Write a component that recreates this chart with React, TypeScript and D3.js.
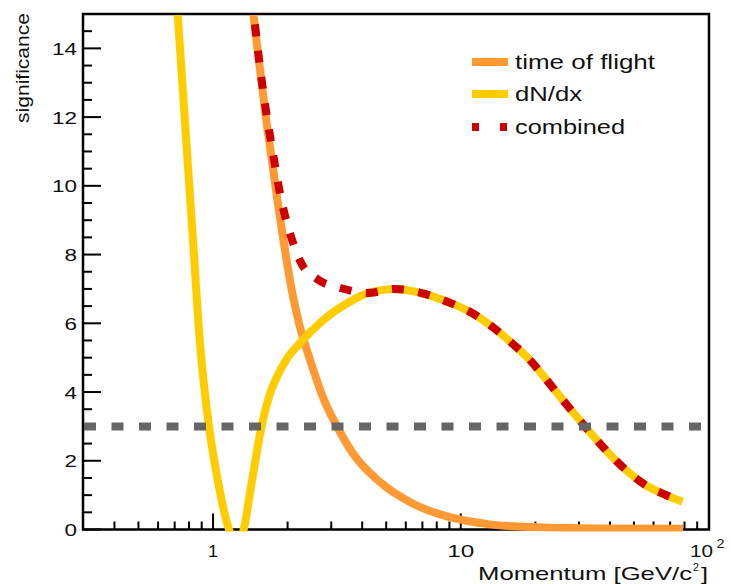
import * as d3 from 'd3';
import React, { useRef, useEffect } from 'react';

// time of flight
const tofMomentum = [1.34, 1.454, 1.634, 1.818, 2.10, 2.242, 2.46, 2.777, 3.165, 3.64, 4.72, 6.42, 8.8, 13.1, 19.0, 36.7, 79];
const tofSignificance = [17, 15, 12, 9.6, 6.8, 5.9, 4.95, 3.85, 3.0, 2.25, 1.38, 0.75, 0.38, 0.15, 0.07, 0.03, 0.02];

// dN/dx
const dndxMomentum = [0.69, 0.72, 0.83, 0.884, 0.963, 1.032, 1.16, 1.245, 1.33, 1.42, 1.57, 1.69, 1.80, 1.98, 2.24, 2.78, 3.55, 4.3, 5.4, 6.95, 8.88, 11.1, 13.5, 16.1, 18.5, 25.2, 33.3, 45.3, 55.5, 67, 78.5];
const dndxSignificance = [17, 15, 8.42, 5.5, 3.0, 1.65, 0, -0.4, 0, 1.2, 3.0, 3.9, 4.4, 4.95, 5.42, 6.09, 6.62, 6.9, 7.0, 6.88, 6.62, 6.3, 5.88, 5.42, 5.02, 3.86, 2.82, 1.80, 1.30, 1.01, 0.81];

// combined
const combMomentum = [1.36, 1.47, 1.59, 1.75, 1.88, 2.09, 2.27, 2.64, 3.30, 4.2, 5.4, 6.95, 8.88, 11.1, 13.5, 16.1, 18.5, 25.2, 33.3, 45.3, 55.5, 67, 78.5];
const combSignificance = [17, 14.8, 12.8, 10.9, 9.64, 8.4, 7.75, 7.28, 7.02, 6.88, 7.0, 6.88, 6.62, 6.3, 5.88, 5.42, 5.02, 3.86, 2.82, 1.80, 1.30, 1.01, 0.81];

const threshold = 3;

const yTickValues = [0, 2, 4, 6, 8, 10, 12, 14];
const xMinorTicks = [0.4, 0.5, 0.6, 0.7, 0.8, 0.9, 2, 3, 4, 5, 6, 7, 8, 9, 20, 30, 40, 50, 60, 70, 80, 90];

const legendNames = ["time of flight", "dN/dx", "combined"];

const ORANGE = "#ff9933";
const YELLOW = "#ffcc00";
const RED = "#cc0000";
const GREY = "#666666";

function App() {
    const ref = useRef<SVGSVGElement>(null);

    useEffect(() => {
        draw();
    }, []);

    const draw = () => {
        const svg = d3.select(ref.current);
        svg.selectAll("*").remove();

        const font = "'Liberation Sans', Arial, Helvetica, sans-serif";

        const x = d3.scaleLog().domain([0.3, 100]).range([83.5, 708.5]);
        const y = d3.scaleLinear().domain([0, 15]).range([529.5, 14]);

        const left = 83, right = 709, top = 14, bottom = 529.5;

        svg.append("rect").attr("width", 731).attr("height", 584).attr("fill", "white");

        // helper for stretched ROOT-ish text
        const text = (str: string, px: number, py: number, size: number, len: number, anchor: string) =>
            svg.append("text")
                .attr("x", px).attr("y", py)
                .attr("font-family", font)
                .attr("font-size", size)
                .attr("text-anchor", anchor)
                .attr("textLength", len)
                .attr("lengthAdjust", "spacingAndGlyphs")
                .attr("fill", "#111")
                .text(str);

        // y ticks
        const yAxis = svg.append("g");
        d3.range(0, 15, 0.5).forEach(v => {
            const major = v % 2 === 0;
            yAxis.append("line")
                .attr("x1", left).attr("x2", left + (major ? 18 : 9))
                .attr("y1", y(v)).attr("y2", y(v))
                .attr("stroke", "black").attr("stroke-width", 2);
        });
        yTickValues.forEach(v => {
            const s = String(v);
            text(s, 77, y(v) + 6.5, 17, s.length > 1 ? 25 : 12.5, "end");
        });

        // x ticks
        const xAxis = svg.append("g");
        xMinorTicks.forEach(v => {
            xAxis.append("line")
                .attr("x1", x(v)).attr("x2", x(v))
                .attr("y1", bottom).attr("y2", bottom - 8)
                .attr("stroke", "black").attr("stroke-width", 2);
        });
        [1, 10].forEach(v => {
            xAxis.append("line")
                .attr("x1", x(v)).attr("x2", x(v))
                .attr("y1", bottom).attr("y2", bottom - 16)
                .attr("stroke", "black").attr("stroke-width", 2);
        });
        text("1", x(1), 557, 17, 10, "middle");
        text("10", x(10), 557, 17, 27, "middle");
        text("10", x(100) - 7, 557, 17, 23, "middle");
        text("2", x(100) + 12, 548, 12, 8, "middle");

        // frame
        svg.append("rect")
            .attr("x", left).attr("y", top)
            .attr("width", right - left).attr("height", bottom - top)
            .attr("fill", "none").attr("stroke", "black").attr("stroke-width", 2.5);

        // curves
        svg.append("defs").append("clipPath").attr("id", "plotclip")
            .append("rect").attr("x", left).attr("y", top + 1)
            .attr("width", right - left).attr("height", 531.5 - top - 1);

        const line = d3.line<number>()
            .curve(d3.curveMonotoneX);

        const path = (px: number[], py: number[]) =>
            line.x((_, i) => x(px[i])).y((_, i) => y(py[i]))(px);

        const curves = svg.append("g").attr("clip-path", "url(#plotclip)");

        curves.append("path")
            .attr("d", path(tofMomentum, tofSignificance))
            .attr("fill", "none").attr("stroke", ORANGE).attr("stroke-width", 8);

        curves.append("path")
            .attr("d", path(dndxMomentum, dndxSignificance))
            .attr("fill", "none").attr("stroke", YELLOW).attr("stroke-width", 8);

        curves.append("path")
            .attr("d", path(combMomentum, combSignificance))
            .attr("fill", "none").attr("stroke", RED).attr("stroke-width", 8)
            .attr("stroke-dasharray", "12 14.5");

        // 3 sigma line
        svg.append("line")
            .attr("x1", left + 1).attr("x2", right - 4)
            .attr("y1", y(threshold)).attr("y2", y(threshold))
            .attr("stroke", GREY).attr("stroke-width", 8)
            .attr("stroke-dasharray", "12 15.5");

        // legend
        const legendY = [62, 94, 127];
        const legendColor = [ORANGE, YELLOW, RED];
        const legendLen = [140, 67, 110];
        legendNames.forEach((name, i) => {
            const l = svg.append("line")
                .attr("x1", 472).attr("x2", 508)
                .attr("y1", legendY[i]).attr("y2", legendY[i])
                .attr("stroke", legendColor[i]).attr("stroke-width", 8);
            if (i === 2) l.attr("stroke-dasharray", "7 21");
            text(name, 515, legendY[i] + 7, 20, legendLen[i], "start");
        });

        // axis titles
        text("Momentum [GeV/c", 692, 580, 19, 214, "end");
        text("2", 696, 571, 11, 6, "middle");
        text("]", 708, 580, 19, 7, "end");

        svg.append("text")
            .attr("transform", "translate(29, 13) rotate(-90)")
            .attr("font-family", font)
            .attr("font-size", 19)
            .attr("text-anchor", "end")
            .attr("textLength", 110)
            .attr("lengthAdjust", "spacingAndGlyphs")
            .attr("fill", "#111")
            .text("significance");
    };

    return (
        <svg ref={ref} width={731} height={584}
            style={{ position: "absolute", left: 0, top: 0, background: "white" }}>
        </svg>
    );
}

export default App;
